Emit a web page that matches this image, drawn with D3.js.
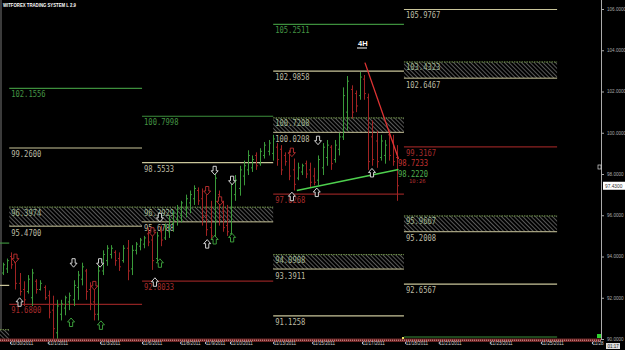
<!DOCTYPE html>
<html><head><meta charset="utf-8">
<script src="https://cdn.jsdelivr.net/npm/d3@7"></script>
<style>html,body{margin:0;padding:0;background:#000;overflow:hidden}</style>
</head><body><svg id="c" width="625" height="350"></svg>
<script>
// ---- data (prices) ----
const bars = [ // [open, high, low, close]
[93.2,93.7,93.1,93.6],[93.4,93.9,93.2,93.8],[94.0,94.2,93.4,93.6],[93.7,94.05,92.4,92.7],
[92.7,93.2,92.1,92.3],[92.4,92.8,91.6,91.9],[92.3,93.1,92.2,92.9],[92.0,93.4,91.6,93.2],
[92.8,92.9,92.2,92.4],[92.4,92.85,92.35,92.7],[92.5,92.6,91.9,92.0],[92.1,92.35,91.0,91.3],
[91.4,92.1,90.0,90.5],[90.3,91.9,89.95,91.6],[91.2,91.9,90.9,91.7],[91.5,92.1,91.15,92.0],
[91.8,92.25,91.4,92.1],[91.9,92.85,91.6,92.6],[92.5,93.3,91.9,93.1],[92.9,93.7,92.6,93.5],
[93.3,93.4,91.9,92.3],[92.4,92.75,91.4,91.7],[91.8,92.6,90.9,91.2],[91.2,93.55,90.9,93.3],
[93.3,94.3,93.1,94.1],[93.8,94.55,93.55,94.4],[94.1,94.55,93.9,94.4],[94.2,94.3,93.55,93.8],
[93.9,94.2,93.3,93.5],[93.8,94.55,93.7,94.4],[94.4,94.8,92.85,93.3],[93.4,94.55,93.1,94.3],
[94.3,94.7,94.1,94.6],[94.5,94.9,94.3,94.8],[94.6,95.0,94.4,94.9],[95.1,95.4,94.5,94.7],
[94.8,95.3,93.35,93.8],[93.9,95.2,93.7,95.0],[95.2,95.5,94.5,94.8],[94.9,95.6,94.8,95.5],
[95.2,96.0,94.9,95.8],[95.6,96.25,95.2,96.1],[95.8,96.5,95.5,96.3],[96.0,96.7,95.65,96.6],
[96.3,97.0,95.9,96.8],[96.6,97.2,96.1,97.0],[96.8,97.45,96.5,97.3],[97.2,97.35,96.5,96.7],
[96.8,97.3,95.5,95.9],[96.0,97.0,95.0,95.3],[95.4,96.7,94.8,95.0],[95.0,98.1,94.8,97.8],
[97.0,97.2,95.5,95.9],[96.2,96.7,95.2,95.4],[95.5,96.5,95.0,95.2],[95.1,97.8,94.8,97.5],
[97.0,97.95,96.7,97.7],[97.3,98.4,96.95,98.2],[97.9,98.65,97.45,98.4],[98.2,99.15,97.95,98.9],
[98.3,98.9,98.1,98.7],[98.9,99.05,98.2,98.4],[98.5,99.25,98.4,99.1],[98.9,99.55,98.75,99.4],
[99.1,99.65,98.9,99.5],[99.0,99.9,98.65,99.7],[99.3,99.5,98.4,98.7],[99.2,99.4,97.95,98.2],
[98.9,99.05,98.4,98.6],[99.0,99.15,97.7,97.9],[98.2,98.75,97.2,97.5],[97.8,98.55,97.7,98.3],
[98.1,98.5,97.95,98.4],[98.5,98.65,97.8,98.0],[98.2,98.55,97.35,97.6],[97.9,98.3,97.45,97.6],
[97.7,98.9,97.45,98.7],[98.3,99.5,97.95,99.3],[98.8,99.65,98.4,99.4],[99.3,99.4,98.2,98.5],
[98.7,99.65,98.55,99.4],[99.2,100.0,98.9,99.8],[99.8,102.2,99.65,101.8],[101.0,102.75,100.1,102.5],
[102.1,102.3,100.7,101.0],[101.9,102.05,101.0,101.3],[101.8,102.95,101.6,102.7],[102.6,102.8,101.6,101.9],
[101.7,101.9,98.2,98.6],[99.8,100.6,98.4,98.7],[99.6,100.1,98.3,98.6],[98.8,99.9,98.65,99.6],
[98.9,99.65,98.5,99.4],[99.9,100.1,98.65,98.9],[99.6,99.9,98.4,98.6],[98.8,99.4,96.7,97.43]
];
const yTicks = [90,92,94,96,98,100,102,104,106];
const dateLabels = ["10/30/2011","11/1/2011","11/3/2011","11/6/2011","11/8/2011","11/9/2011","11/10/2011","11/13/2011","11/15/2011","11/17/2011","11/18/2011","11/21/2011","11/23/2011","11/25/2011","11/28"];
const datePos = [1.7,10.8,23.4,33.5,42.7,48.7,54.7,65.1,74.5,86.5,96.9,105,117.3,129.6,141.9];
const segStart = [-0.75,1.5,33.5,65.1,96.6];
const segEnd   = [1.5,33.5,65.1,96.6,133.5];
// [segment, price, kind, label?]
const levels = [
 [0,94.65,"g",0],[0,92.6,"p",0],
 [1,102.1556,"g",1],[1,99.2600,"p",1],[1,91.6800,"r",1],
 [2,100.7998,"g",1],[2,98.5533,"p",1],[2,92.8033,"r",1],
 [3,105.2511,"g",1],[3,102.9858,"p",1],[3,97.0268,"r",1],[3,91.1258,"p",1],
 [4,105.9767,"p",1],[4,99.3167,"r",1],[4,92.6567,"p",1],[4,90.0967,"g",0]
];
// [segment, top, bottom, label?]
const zones = [
 [0,90.45,89.97,0],
 [1,96.3974,95.4700,1],[2,96.3929,95.6788,1],
 [3,100.7208,100.0208,1],[3,94.0908,93.3911,1],
 [4,103.4323,102.6467,1],[4,95.9667,95.2008,1]
];
// [barIndex, price, direction, colour]
const markers = [
 [3,93.92,"d","r"],[4,91.78,"u","w"],[16.4,90.8,"u","g"],[17,93.7,"d","w"],[22,92.6,"d","r"],
 [23.4,93.7,"d","w"],[23.6,90.66,"u","g"],[36.6,92.75,"u","w"],[37.8,93.67,"u","g"],[36,95.2,"d","r"],
 [37.8,95.9,"d","w"],[49.2,97.2,"d","r"],[49.2,94.6,"u","w"],[51,98.18,"d","w"],[51,94.8,"u","g"],
 [52.3,96.7,"d","r"],[55.2,97.7,"d","w"],[55.2,94.9,"u","g"],[69.6,99.06,"d","r"],[69.6,96.9,"u","w"],
 [75.6,97.1,"u","w"],[75.9,99.64,"d","w"],[88.9,98.05,"u","w"]
];
const greenTrend = [[70.8,97.2],[95.3,98.222]];
const redTrend = [[87.2,103.4],[95.3,98.7233]];
const lastPrice = 97.43;

// ---- drawing ----
const svg = d3.select("#c");
svg.append("rect").attr("width",625).attr("height",350).attr("fill","#000");
const x = d3.scaleLinear().domain([0,95]).range([3,397.3]);
const y = d3.scaleLinear().domain([90,106]).range([339,9]);
const col = {g:"#3d8f3d",p:"#c9c59a",r:"#8e2222"};
const lab = {g:"#449444",p:"#bdbba4",r:"#a82c2c"};
const defs = svg.append("defs");
const pat = defs.append("pattern").attr("id","hatch").attr("patternUnits","userSpaceOnUse")
  .attr("width",3).attr("height",3).attr("patternTransform","rotate(-45)");
pat.append("rect").attr("width",3).attr("height",3).attr("fill","#000");
pat.append("line").attr("x1",0).attr("y1",0).attr("x2",0).attr("y2",3).attr("stroke","#8a8a8a").attr("stroke-width",1.3);

const font = "'DejaVu Sans Mono', monospace";
function label(xx, yy, txt, color){
  svg.append("text").attr("x",xx).attr("y",yy).text(txt)
    .attr("font-family",font).attr("font-size",8.8).attr("fill",color)
    .attr("textLength",txt.length*4.3).attr("lengthAdjust","spacingAndGlyphs");
}
// frame line left
svg.append("line").attr("x1",1).attr("x2",1).attr("y1",0).attr("y2",340).attr("stroke","#777").attr("stroke-width",1);

zones.forEach(([s,t,b,l])=>{
  const x0=Math.max(0,x(segStart[s])), x1=x(segEnd[s]);
  svg.append("rect").attr("x",x0).attr("y",y(t)).attr("width",x1-x0).attr("height",y(b)-y(t)).attr("fill","url(#hatch)");
  svg.append("line").attr("x1",x0).attr("x2",x1).attr("y1",y(t)).attr("y2",y(t)).attr("stroke","#7aa050").attr("stroke-dasharray","1.5,1");
  svg.append("line").attr("x1",x0).attr("x2",x1).attr("y1",y(b)).attr("y2",y(b)).attr("stroke",col.p);
  if(l){ label(x0+2,y(t)+8.5,t.toFixed(4),"#9fb58f"); label(x0+2,y(b)+9.5,b.toFixed(4),lab.p); }
});
levels.forEach(([s,p,k,l])=>{
  const x0=Math.max(0,x(segStart[s])), x1=x(segEnd[s]);
  svg.append("line").attr("x1",x0).attr("x2",x1).attr("y1",y(p)).attr("y2",y(p)).attr("stroke",col[k]).attr("stroke-width",1.2);
  if(l) label(x0+2,y(p)+9,p.toFixed(4),lab[k]);
});

// bars
const gb = svg.append("g");
bars.forEach((d,i)=>{
  const [o,h,l,c]=d, cx=Math.round(x(i))+0.5, color=c>=o?"#3a9a3a":"#a12323";
  gb.append("line").attr("x1",cx).attr("x2",cx).attr("y1",y(h)).attr("y2",y(l)).attr("stroke",color);
  gb.append("line").attr("x1",cx-1.5).attr("x2",cx).attr("y1",y(o)).attr("y2",y(o)).attr("stroke",color);
  gb.append("line").attr("x1",cx).attr("x2",cx+1.5).attr("y1",y(c)).attr("y2",y(c)).attr("stroke",color);
});

// trend lines
const ln = d3.line().x(d=>x(d[0])).y(d=>y(d[1]));
svg.append("path").attr("d",ln(greenTrend)).attr("stroke","#4ed04e").attr("stroke-width",1.5).attr("fill","none");
svg.append("path").attr("d",ln(redTrend)).attr("stroke","#e03434").attr("stroke-width",1.3).attr("fill","none");
label(398,166,"98.7233","#c03030");
label(398,176.5,"98.2220","#4fae4f");
svg.append("text").attr("x",409).attr("y",183).text("10:26").attr("font-family",font)
  .attr("font-size",5.5).attr("fill","#b03030");

// markers
const mcol = {w:"#e8e8e8",g:"#3faa3f",r:"#c03030"};
const upPath = "M0,-4.5 L3.5,-0.5 L1.6,-0.5 L1.6,4 L-1.6,4 L-1.6,-0.5 L-3.5,-0.5 Z";
markers.forEach(([i,p,dir,c])=>{
  svg.append("path").attr("d",upPath)
    .attr("transform",`translate(${x(i)},${y(p)}) ${dir==="d"?"rotate(180)":""}`)
    .attr("fill","#000").attr("stroke",mcol[c]).attr("stroke-width",0.9);
});

// 4H label and title
svg.append("text").attr("x",358).attr("y",46).text("4H").attr("font-family","Arial, 'Liberation Sans'")
  .attr("font-size",7.5).attr("font-weight","bold").attr("fill","#fff");
svg.append("line").attr("x1",357).attr("x2",367).attr("y1",48).attr("y2",48).attr("stroke","#fff");
svg.append("text").attr("x",3).attr("y",7).text("WITFOREX TRADING SYSTEM L 2.9")
  .attr("font-family","Arial, 'Liberation Sans'").attr("font-size",5.5).attr("font-weight","bold").attr("fill","#fff")
  .attr("textLength",73).attr("lengthAdjust","spacingAndGlyphs");

// bottom band
svg.append("rect").attr("x",0).attr("y",338.5).attr("width",601).attr("height",3.5).attr("fill","#6e2626");
svg.append("line").attr("x1",0).attr("x2",601).attr("y1",340.2).attr("y2",340.2).attr("stroke","#e0a0a0").attr("stroke-dasharray","1,1");

// y axis
const ya = svg.append("g").attr("transform","translate(601,0)").call(d3.axisRight(y).tickValues(yTicks).tickSize(3).tickFormat(d=>d.toFixed(4)));
ya.select(".domain").attr("stroke","#aaa").attr("d","M0.5,0V340");
ya.selectAll(".tick line").attr("stroke","#aaa");
ya.selectAll(".tick text").attr("fill","#aaa").attr("font-size",4.6).attr("font-family","Arial, 'Liberation Sans'").attr("x",6);

// date labels
const xa = svg.append("g").attr("transform","translate(0,342)").call(d3.axisBottom(x).tickValues(datePos).tickSize(2).tickFormat((d,i)=>dateLabels[i]));
xa.select(".domain").remove();
xa.selectAll(".tick line").attr("stroke","#ccc");
xa.selectAll(".tick text").attr("fill","#ccc").attr("font-size",4.6).attr("font-family","Arial, 'Liberation Sans'")
  .attr("text-anchor","start").attr("dy","0.2em").attr("y",2);

// last price box and misc
svg.append("rect").attr("x",603).attr("y",y(lastPrice)-4).attr("width",22).attr("height",8).attr("fill","#fff");
svg.append("text").attr("x",605).attr("y",y(lastPrice)+1.8).text(lastPrice.toFixed(4)).attr("font-size",4.8)
  .attr("font-family","Arial, 'Liberation Sans'").attr("fill","#333");
svg.append("rect").attr("x",597).attr("y",334).attr("width",4).attr("height",4).attr("fill","#2fd02f");
svg.append("rect").attr("x",598).attr("y",165).attr("width",3).attr("height",4).attr("fill","none").attr("stroke","#ddd").attr("stroke-width",0.7);
svg.append("rect").attr("x",606).attr("y",343).attr("width",14).attr("height",6).attr("fill","#ddd");
svg.append("text").attr("x",607.5).attr("y",347.8).text("01:17").attr("font-size",4.5).attr("font-family","Arial").attr("fill","#222");
svg.append("rect").attr("x",402).attr("y",337).attr("width",2).attr("height",2).attr("fill","#f0e060");
</script></body></html>
